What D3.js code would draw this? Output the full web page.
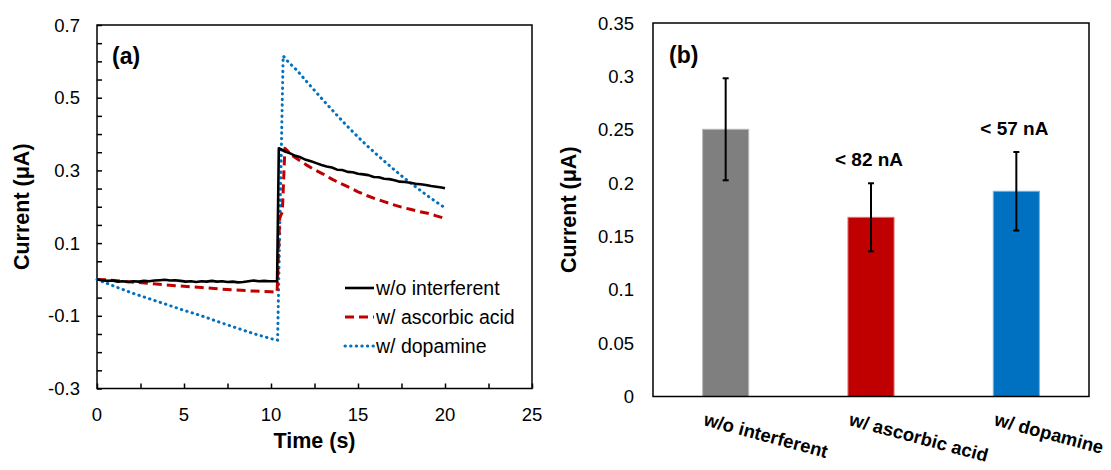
<!DOCTYPE html>
<html><head><meta charset="utf-8">
<script src="https://cdn.jsdelivr.net/npm/d3@7"></script>
<style>
html,body{margin:0;padding:0;background:#fff;}
svg{display:block;font-family:"Liberation Sans",Arial,sans-serif;}
</style></head>
<body><svg id="c" width="1111" height="470"></svg>
<script>
// ---------- Panel (a) data ----------
const blackT = [0,0.3,0.6,0.9,1.2,1.5,1.8,2.1,2.4,2.7,3.0,3.3,3.6,3.9,4.2,4.5,4.8,5.1,5.4,5.7,6.0,6.3,6.6,6.9,7.2,7.5,7.8,8.1,8.4,8.7,9.0,9.3,9.6,9.9,10.2,10.35,10.45,10.8,11.1,11.4,11.7,12.0,12.3,12.6,12.9,13.2,13.5,13.8,14.1,14.4,14.7,15.0,15.3,15.6,15.9,16.2,16.5,16.8,17.1,17.4,17.7,18.0,18.3,18.6,18.9,19.2,19.5,19.8,20.0];
const blackI = [0.000,-0.002,-0.004,-0.003,-0.006,-0.005,-0.007,-0.005,-0.006,-0.004,-0.005,-0.003,-0.002,-0.001,-0.003,-0.002,-0.004,-0.006,-0.005,-0.007,-0.005,-0.006,-0.004,-0.006,-0.005,-0.007,-0.006,-0.008,-0.007,-0.005,-0.003,-0.005,-0.004,-0.005,-0.005,-0.005,0.361,0.352,0.347,0.340,0.336,0.329,0.325,0.320,0.315,0.311,0.308,0.302,0.301,0.296,0.295,0.291,0.289,0.287,0.282,0.281,0.277,0.276,0.273,0.269,0.268,0.266,0.263,0.262,0.260,0.257,0.255,0.253,0.251];

const redT = [0,0.5,1,2,3,4,5,6,7,8,9,10,10.35,10.5,10.65,10.8,11.3,12.0,12.5,13.0,13.5,14.0,14.5,15.0,15.5,16.0,16.5,17.0,17.5,18.0,18.5,19.0,19.5,20.0];
const redI = [0,-0.001,-0.003,-0.007,-0.011,-0.015,-0.019,-0.022,-0.026,-0.029,-0.032,-0.034,-0.035,0.170,0.185,0.361,0.338,0.316,0.302,0.290,0.276,0.264,0.253,0.241,0.231,0.222,0.214,0.206,0.199,0.193,0.187,0.182,0.175,0.168];

const blueT = [0,1,2,3,4,5,6,7,8,9,10,10.38,10.7,11.0,11.5,12.0,12.5,13.0,13.5,14.0,14.5,15.0,15.5,16.0,16.5,17.0,17.5,18.0,18.5,19.0,19.5,20.0];
const blueI = [0,-0.019,-0.037,-0.053,-0.069,-0.085,-0.100,-0.117,-0.133,-0.149,-0.163,-0.167,0.615,0.598,0.575,0.547,0.520,0.493,0.467,0.441,0.416,0.392,0.369,0.347,0.326,0.305,0.285,0.266,0.248,0.230,0.213,0.197];

const seriesNames = ["w/o interferent","w/ ascorbic acid","w/ dopamine"];
const xTicksA = [0,5,10,15,20,25];
const yTicksA = [-0.3,-0.1,0.1,0.3,0.5,0.7];

// ---------- Panel (b) data ----------
const categories = ["w/o interferent","w/ ascorbic acid","w/ dopamine"];
const barValues = [0.2504,0.1679,0.1923];
const barErrors = [0.0478,0.0319,0.0368];
const barNotes = ["","< 82 nA","< 57 nA"];
const yTicksB = [0,0.05,0.1,0.15,0.2,0.25,0.3,0.35];

const svg = d3.select("#c");
const TICK_FS = 18.5, TITLE_FS = 21.5, LEG_FS = 19.5, CAT_FS = 18.5, NOTE_FS = 19, PANEL_FS = 23;

// ================= Panel (a) =================
const xA = d3.scaleLinear().domain([0,25]).range([97,532]);
const yA = d3.scaleLinear().domain([-0.3,0.7]).range([388.5,25]);

const gA = svg.append("g");
gA.append("rect").attr("x",xA(0)).attr("y",yA(0.7)).attr("width",xA(25)-xA(0)).attr("height",yA(-0.3)-yA(0.7))
  .attr("fill","none").attr("stroke","#000").attr("stroke-width",1.5);

const yMinor = d3.range(-0.3,0.7001,0.05);
gA.append("g").attr("transform",`translate(${xA(0)},0)`)
  .call(d3.axisLeft(yA).tickValues(yMinor).tickSize(-5).tickFormat(""))
  .call(g=>{g.select(".domain").remove(); g.selectAll("line").attr("stroke","#000").attr("stroke-width",1.5);});
const xMinor = d3.range(0,25.001,2.5);
gA.append("g").attr("transform",`translate(0,${yA(-0.3)})`)
  .call(d3.axisBottom(xA).tickValues(xMinor).tickSize(-5).tickFormat(""))
  .call(g=>{g.select(".domain").remove(); g.selectAll("line").attr("stroke","#000").attr("stroke-width",1.5);});

gA.append("g").selectAll("text").data(yTicksA).join("text")
  .attr("x",80).attr("y",d=>yA(d)).attr("dy","0.36em").attr("text-anchor","end")
  .attr("font-size",TICK_FS).attr("fill","#000").text(d=>d3.format(".1f")(d).replace("−","-"));
gA.append("g").selectAll("text").data(xTicksA).join("text")
  .attr("x",d=>xA(d)).attr("y",421).attr("text-anchor","middle")
  .attr("font-size",TICK_FS).attr("fill","#000").text(d=>d);

gA.append("text").attr("x",d3.mean(xA.range())).attr("y",448).attr("text-anchor","middle")
  .attr("font-size",TITLE_FS).attr("font-weight","bold").text("Time (s)");
gA.append("text").attr("transform",`translate(29,${d3.mean(yA.range())}) rotate(-90)`)
  .attr("text-anchor","middle").attr("font-size",TITLE_FS).attr("font-weight","bold").text("Current (μA)");
gA.append("text").attr("x",112).attr("y",64).attr("font-size",PANEL_FS).attr("font-weight","bold").text("(a)");

const lineA = d3.line().x(d=>xA(d[0])).y(d=>yA(d[1]));
const styles = [
  {color:"#000000", dash:null, w:2.6, cap:"butt"},
  {color:"#C00000", dash:"9,5", w:3, cap:"butt"},
  {color:"#0070C0", dash:"0.4,5.2", w:3, cap:"round"}
];
const dataA = [d3.zip(blackT,blackI), d3.zip(redT,redI), d3.zip(blueT,blueI)];
[2,1,0].forEach(i=>{
  gA.append("path").datum(dataA[i]).attr("d",lineA).attr("fill","none")
    .attr("stroke",styles[i].color).attr("stroke-width",styles[i].w)
    .attr("stroke-dasharray",styles[i].dash).attr("stroke-linecap",styles[i].cap).attr("stroke-linejoin","round");
});

const leg = gA.append("g");
seriesNames.forEach((n,i)=>{
  const y = 288 + i*29;
  leg.append("line").attr("x1",345).attr("x2",374).attr("y1",y).attr("y2",y)
    .attr("stroke",styles[i].color).attr("stroke-width",styles[i].w)
    .attr("stroke-dasharray",styles[i].dash).attr("stroke-linecap",styles[i].cap);
  leg.append("text").attr("x",376).attr("y",y).attr("dy","0.36em").attr("font-size",LEG_FS).text(n);
});

// ================= Panel (b) =================
const xB = d3.scaleBand().domain(categories).range([653,1089]).padding(0);
const yB = d3.scaleLinear().domain([0,0.35]).range([396.5,23]);
const gB = svg.append("g");
const barW = xB.bandwidth()*0.317;
const colors = ["#7F7F7F","#C00000","#0070C0"];

gB.selectAll("rect.bar").data(categories).join("rect").attr("class","bar")
  .attr("x",d=>xB(d)+xB.bandwidth()/2-barW/2).attr("width",barW)
  .attr("y",(d,i)=>yB(barValues[i])).attr("height",(d,i)=>yB(0)-yB(barValues[i]))
  .attr("fill",(d,i)=>colors[i]).attr("stroke",(d,i)=>d3.interpolateRgb(colors[i],"#fff")(0.45)).attr("stroke-width",1);

gB.append("rect").attr("x",653).attr("y",yB(0.35)).attr("width",1089-653).attr("height",yB(0)-yB(0.35))
  .attr("fill","none").attr("stroke","#000").attr("stroke-width",1.5);

categories.forEach((c,i)=>{
  const cx = xB(c)+xB.bandwidth()/2;
  const t = yB(barValues[i]+barErrors[i]), b = yB(barValues[i]-barErrors[i]);
  gB.append("line").attr("x1",cx).attr("x2",cx).attr("y1",t).attr("y2",b).attr("stroke","#000").attr("stroke-width",2);
  [t,b].forEach(y=>gB.append("line").attr("x1",cx-3).attr("x2",cx+3).attr("y1",y).attr("y2",y).attr("stroke","#000").attr("stroke-width",2));
  if(barNotes[i]) gB.append("text").attr("x",cx-2).attr("y",t-17).attr("text-anchor","middle")
    .attr("font-size",NOTE_FS).attr("font-weight","bold").text(barNotes[i]);
});

gB.append("g").selectAll("text").data(yTicksB).join("text")
  .attr("x",634).attr("y",d=>yB(d)).attr("dy","0.36em").attr("text-anchor","end")
  .attr("font-size",TICK_FS).text(d=>d3.format("~g")(d));

categories.forEach(c=>{
  const cx = xB(c)+xB.bandwidth()/2;
  gB.append("text").attr("transform",`translate(${cx-23},425) rotate(15)`)
    .attr("font-size",CAT_FS).attr("font-weight","bold").text(c);
});

gB.append("text").attr("transform",`translate(576,${d3.mean(yB.range())}) rotate(-90)`)
  .attr("text-anchor","middle").attr("font-size",TITLE_FS).attr("font-weight","bold").text("Current (μA)");
gB.append("text").attr("x",669).attr("y",63).attr("font-size",PANEL_FS).attr("font-weight","bold").text("(b)");
</script></body></html>
